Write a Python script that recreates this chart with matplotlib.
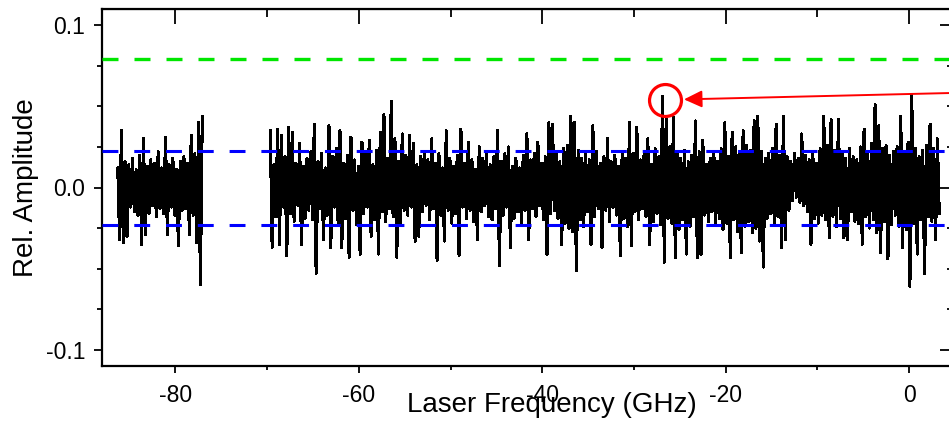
import numpy as np
import matplotlib
matplotlib.use('Agg')
import matplotlib.pyplot as plt
from matplotlib.ticker import MultipleLocator, FormatStrFormatter

# === CONFIG ===
plt.rcParams['font.family'] = ['Liberation Sans', 'DejaVu Sans']
plt.rcParams['axes.unicode_minus'] = False
plt.rcParams['path.simplify'] = False

# === DATA (amplitude in units of 1e-3) ===
# scan 1: -86.3 .. -77.1 GHz
seg1_start, seg1_stop = -86.28, -77.07
seg1_milli = [
    12, -32, 35, -34, 16, -30, 14, -12, 18, -15, 11, -17, 20, -35, 30, -29,
    13, -16, 17, -11, 15, -18, 22, -13, 12, -16, 31, -29, 14, -12, 18, -17,
    11, -36, 16, -14, 19, -13, 15, -29, 32, -17, 21, -34, 40, -60, 44,
]

# scan 2: -69.7 .. 3.3 GHz
seg2_start, seg2_stop = -69.65, 3.28
seg2_milli = [
    35, -37, 14, -18, 36, -35, 32, -12, 19, -42, 37, -16, 34, -21, 15, -11, 27, -35, 13, -19,
    18, -14, 22, -20, 39, -53, 16, -13, 21, -32, 12, -17, 38, -37, 19, -12, 24, -22, 35, -37,
    15, -19, 20, -43, 31, -14, 17, -23, 13, -41, 28, -16, 21, -12, 29, -30, 14, -20, 23, -41,
    34, -15, 45, -21, 18, -13, 53, -18, 30, -43, 16, -22, 33, -14, 20, -17, 32, -12, 27, -33,
    14, -30, 19, -15, 22, -11, 17, -20, 30, -13, 15, -45, 21, -17, 12, -33, 35, -14, 18, -22,
    13, -16, 20, -42, 36, -12, 15, -19, 28, -14, 17, -21, 11, -32, 25, -15, 18, -11, 22, -18,
    14, -20, 19, -13, 35, -48, 16, -17, 21, -12, 25, -37, 13, -19, 18, -15, 12, -22, 20, -14,
    33, -32, 17, -13, 21, -18, 28, -11, 15, -20, 19, -41, 40, -16, 39, -14, 22, -19, 16, -35,
    24, -22, 26, -25, 44, -27, 40, -51, 23, -20, 18, -24, 21, -15, 17, -35, 38, -18, 22, -13,
    15, -37, 19, -14, 30, -21, 16, -12, 20, -17, 13, -42, 22, -19, 18, -24, 40, -36, 21, -15,
    37, -20, 17, -13, 22, -18, 30, -35, 14, -21, 24, -16, 19, -23, 56, -46, 42, -19, 25, -22,
    43, -43, 21, -26, 18, -20, 23, -41, 16, -24, 20, -18, 41, -43, 22, -41, 29, -17, 14, -21,
    18, -15, 22, -23, 16, -19, 24, -26, 40, -22, 19, -43, 34, -20, 25, -27, 21, -40, 35, -24,
    26, -21, 23, -28, 41, -25, 44, -33, 22, -49, 18, -19, 21, -16, 24, -22, 39, -18, 20, -37,
    44, -32, 19, -14, 16, -8, 21, -6, 18, -9, 33, -11, 20, -15, 17, -35, 22, -19, 15, -22,
    24, -17, 44, -20, 26, -31, 42, -18, 23, -24, 42, -19, 21, -31, 18, -32, 24, -15, 19, -21,
    17, -22, 25, -35, 36, -18, 22, -25, 27, -20, 51, -28, 38, -40, 24, -21, 26, -44, 20, -23,
    22, -17, 25, -24, 44, -37, 21, -26, 28, -61, 57, -22, 24, -41, 19, -20, 23, -53, 26, -18,
    39, -21, 24, -32, 30, -16,
]

# reference levels
green_level = 0.079
blue_upper = 0.0225
blue_lower = -0.0232

# marked peak
peak_x, peak_y = -26.6, 0.0537
arrow_tip = (-24.55, 0.0543)
arrow_tail = (8.0, 0.0587)

x_major = [-80, -60, -40, -20, 0]

# === BUILD SERIES ===
y1 = np.array(seg1_milli) * 1e-3
y2 = np.array(seg2_milli) * 1e-3
x1 = np.linspace(seg1_start, seg1_stop, len(y1))
x2 = np.linspace(seg2_start, seg2_stop, len(y2))

# === PLOT ===
fig = plt.figure(figsize=(9.49, 4.24), dpi=100)
ax = fig.add_axes([102 / 949, 1 - 366 / 424, 853 / 949, 357 / 424])

ax.plot(x1, y1, color='black', lw=1.5, antialiased=False, zorder=2)
ax.plot(x2, y2, color='black', lw=1.5, antialiased=False, zorder=2)

ax.axhline(green_level, color='#00e600', lw=2.4, dashes=(4.8, 4.8), zorder=3)
ax.axhline(blue_upper, color='#0000ff', lw=2.2, dashes=(5.2, 5.2), zorder=3)
ax.axhline(blue_lower, color='#0000ff', lw=2.2, dashes=(5.2, 5.2), zorder=3)

ax.plot([peak_x], [peak_y], marker='o', ms=23, mfc='none', mec='#ff0000',
        mew=2.3, zorder=4)
ax.annotate('', xy=arrow_tip, xytext=arrow_tail, annotation_clip=False,
            arrowprops=dict(arrowstyle='-|>,head_length=0.55,head_width=0.26',
                            mutation_scale=20, color='#ff0000', lw=1.4,
                            shrinkA=0, shrinkB=0), zorder=4)

ax.set_xlim(-88, 5)
ax.set_ylim(-0.11, 0.11)

ax.set_xticks(x_major)
ax.xaxis.set_minor_locator(MultipleLocator(10))
ax.yaxis.set_major_locator(MultipleLocator(0.1))
ax.yaxis.set_minor_locator(MultipleLocator(0.025))
ax.yaxis.set_major_formatter(FormatStrFormatter('%.1f'))
ax.xaxis.set_major_formatter(FormatStrFormatter('%d'))

ax.tick_params(which='both', direction='out', width=1.3, labelsize=16.5)
ax.tick_params(axis='x', which='major', length=5, pad=8)
ax.tick_params(axis='x', which='minor', length=3)
ax.tick_params(axis='y', which='major', length=6, pad=6)
ax.tick_params(axis='y', which='minor', length=3.5)
for sp in ax.spines.values():
    sp.set_linewidth(1.6)

# mirrored ticks pointing inwards on top and right
top = ax.secondary_xaxis('top')
top.set_xticks(x_major)
top.xaxis.set_minor_locator(MultipleLocator(10))
top.tick_params(which='both', direction='in', width=1.3, labeltop=False)
top.tick_params(which='major', length=11)
top.tick_params(which='minor', length=6)
right = ax.secondary_yaxis('right')
right.yaxis.set_major_locator(MultipleLocator(0.1))
right.yaxis.set_minor_locator(MultipleLocator(0.025))
right.tick_params(which='both', direction='in', width=1.3, labelright=False)
right.tick_params(which='major', length=11)
right.tick_params(which='minor', length=6)

ax.set_ylabel('Rel. Amplitude', fontsize=20, labelpad=5)
ax.set_xlabel('Laser Frequency (GHz)', fontsize=20)
ax.xaxis.set_label_coords(0.527, -0.072)

fig.savefig('out.png', dpi=100)
